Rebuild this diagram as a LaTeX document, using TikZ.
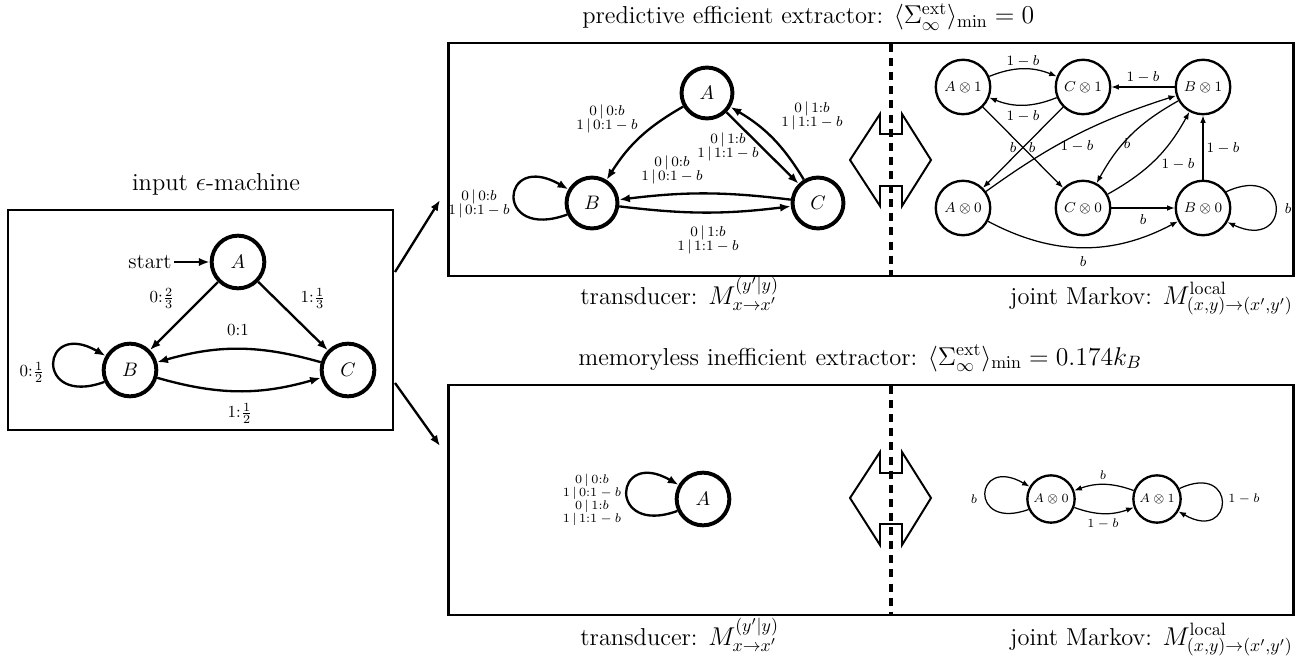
\documentclass[tikz,border=0pt]{standalone}
\usetikzlibrary{arrows.meta}
\newcommand{\tl}[3]{$#1\,|\,#2{:}#3$}
\begin{document}
\begin{tikzpicture}[x=0.56pt,y=-0.56pt,
  frame/.style={draw, line width=1.6pt},
  bigstate/.style={circle, draw, line width=2.2pt, minimum size=29.5pt, inner sep=0pt, font=\fontsize{11}{13}\selectfont},
  jstate/.style={circle, draw, line width=1.3pt, minimum size=30.5pt, inner sep=0pt, font=\fontsize{8}{9.6}\selectfont},
  sjstate/.style={circle, draw, line width=1.3pt, minimum size=26.5pt, inner sep=0pt, font=\fontsize{7}{8.4}\selectfont},
  e/.style={-{Latex[length=6pt,width=4.6pt]}, line width=1.3pt},
  je/.style={-{Latex[length=4.2pt,width=3.2pt]}, line width=0.7pt},
  tlab/.style={font={\fontsize{7.6}{7.7}\selectfont\lineskiplimit=-20pt\relax}, align=center, inner sep=0pt},
  slab/.style={font={\fontsize{7.3}{7.4}\selectfont\lineskiplimit=-20pt\relax}, align=center, inner sep=0pt},
  mlab/.style={font=\fontsize{9.5}{11}\selectfont, inner sep=0pt},
  jlab/.style={font=\fontsize{8}{9.6}\selectfont, inner sep=0pt},
  sjlab/.style={font=\fontsize{7}{8.4}\selectfont, inner sep=0pt},
  caption/.style={font=\fontsize{13.7}{16}\selectfont, inner sep=0pt, anchor=base west},
  divider/.style={line width=1.9pt, dash pattern=on 4.5pt off 3.4pt},
  symb/.style={draw, line width=1.1pt, line join=miter}
]
\useasboundingbox (0,0) rectangle (1302,663);

% ---------------- frames
\node[frame, minimum width=215.6pt, minimum height=123.2pt, inner sep=0pt] (lbox) at (200.5,320) {};
\node[frame, minimum width=473.2pt, minimum height=130.5pt, inner sep=0pt] (tbox) at (871,159.5) {};
\node[frame, minimum width=473.2pt, minimum height=128.8pt, inner sep=0pt] (bbox) at (871,500) {};

% ---------------- titles / captions
\node[caption, anchor=base] (ltitle) at (216,190) {input $\epsilon$-machine};
\node[caption] (ttitle) at (582,24) {predictive efficient extractor: $\langle\Sigma_\infty^{\mathrm{ext}}\rangle_{\min}=0$};
\node[caption] (tcap1) at (580,304) {transducer: $M_{x\to x'}^{(y'|y)}$};
\node[caption, anchor=base east] (tcap2) at (1293,304) {joint Markov: $M_{(x,y)\to(x',y')}^{\mathrm{local}}$};
\node[caption] (btitle) at (578,365) {memoryless inefficient extractor: $\langle\Sigma_\infty^{\mathrm{ext}}\rangle_{\min}=0.174k_B$};
\node[caption] (bcap1) at (580,645) {transducer: $M_{x\to x'}^{(y'|y)}$};
\node[caption, anchor=base east] (bcap2) at (1293,645) {joint Markov: $M_{(x,y)\to(x',y')}^{\mathrm{local}}$};

% ---------------- arrows between boxes
\coordinate (lo1) at (395,272);
\coordinate (to1) at (440,200);
\coordinate (lo2) at (395,383);
\coordinate (to2) at (440,446);
\draw[e] (lo1) -- (to1);
\draw[e] (lo2) -- (to2);

% ---------------- input epsilon-machine
\node[bigstate] (A) at (238,262) {$A$};
\node[bigstate] (B) at (130,370) {$B$};
\node[bigstate] (C) at (348,370) {$C$};
\node[font=\fontsize{12}{14}\selectfont, inner sep=1pt] (start) at (150,262) {start};
\draw[e] (start) -- (A);
\draw[e] (A) -- (B);
\draw[e] (A) -- (C);
\draw[e] (C) to[bend right=16] (B);
\draw[e] (B) to[bend right=16] (C);
\draw[e] (B.205) to[out=200,in=150,distance=42pt] (B.150);
\node[mlab] (l1) at (162,298) {0:$\frac{2}{3}$};
\node[mlab] (l2) at (313,298) {1:$\frac{1}{3}$};
\node[mlab] (l3) at (238,330) {0:1};
\node[mlab] (l4) at (240,413) {1:$\frac{1}{2}$};
\node[mlab] (l5) at (32,372) {0:$\frac{1}{2}$};

% ---------------- top transducer
\node[bigstate, minimum size=28.5pt] (TA) at (707,93) {$A$};
\node[bigstate, minimum size=28.5pt] (TB) at (592,203) {$B$};
\node[bigstate, minimum size=28.5pt] (TC) at (818,203) {$C$};
\draw[e] (TA) to[bend right=14] (TB);
\draw[e] (TA) -- (TC);
\draw[e] (TC) to[bend right=14] (TA);
\draw[e] (TC) to[bend right=7] (TB);
\draw[e] (TB) to[bend right=7] (TC);
\draw[e] (TB.205) to[out=200,in=150,distance=44pt] (TB.150);
\node[tlab] (t1) at (607,119) {\tl{0}{0}{b}\\\tl{1}{0}{1-b}};
\node[tlab] (t2) at (728,147) {\tl{0}{1}{b}\\\tl{1}{1}{1-b}};
\node[tlab] (t3) at (812,116) {\tl{0}{1}{b}\\\tl{1}{1}{1-b}};
\node[tlab] (t4) at (672,170) {\tl{0}{0}{b}\\\tl{1}{0}{1-b}};
\node[tlab] (t5) at (479,204) {\tl{0}{0}{b}\\\tl{1}{0}{1-b}};
\node[tlab] (t6) at (708,240) {\tl{0}{1}{b}\\\tl{1}{1}{1-b}};

% ---------------- divider and symbols
\coordinate (d1) at (891,44);
\coordinate (d2) at (891,275);
\coordinate (d3) at (891,386);
\coordinate (d4) at (891,614);
\draw[symb] (850,160) -- (880,114) -- (880,134) -- (902,134) -- (902,114) -- (931,160)
  -- (902,206) -- (902,186) -- (880,186) -- (880,206) -- cycle;
\draw[symb] (850,498) -- (880,452) -- (880,473) -- (902,473) -- (902,452) -- (931,498)
  -- (902,545) -- (902,524) -- (880,524) -- (880,545) -- cycle;
\draw[divider] (d1) -- (d2);
\draw[divider] (d3) -- (d4);

% ---------------- top joint Markov
\node[jstate] (A1) at (963,87) {$A\otimes 1$};
\node[jstate] (C1) at (1083,87) {$C\otimes 1$};
\node[jstate] (B1) at (1203,87) {$B\otimes 1$};
\node[jstate] (A0) at (963,208) {$A\otimes 0$};
\node[jstate] (C0) at (1083,208) {$C\otimes 0$};
\node[jstate] (B0) at (1203,208) {$B\otimes 0$};
\draw[je] (A1) to[bend left=22] (C1);
\draw[je] (C1) to[bend left=22] (A1);
\draw[je] (B1) -- (C1);
\draw[je] (A1) -- (C0);
\draw[je] (C1) -- (A0);
\draw[je] (A0) to[bend left=9] (B1);
\draw[je] (B1) to[bend right=16] (C0);
\draw[je] (C0) to[bend right=16] (B1);
\draw[je] (B0) -- (B1);
\draw[je] (C0) -- (B0);
\draw[je] (A0) to[bend right=28] (B0);
\draw[je] (B0.35) to[out=25,in=-25,distance=40pt] (B0.-30);
\node[jlab] (j1) at (1023,61) {$1-b$};
\node[jlab] (j2) at (1023,116) {$1-b$};
\node[jlab] (j3) at (1143,77) {$1-b$};
\node[jlab] (j4) at (1032,148) {$b$};
\node[jlab] (j5) at (1013,148) {$b$};
\node[jlab] (j6) at (1077,146) {$1-b$};
\node[jlab] (j7) at (1127,144) {$b$};
\node[jlab] (j8) at (1178,164) {$1-b$};
\node[jlab] (j9) at (1223,148) {$1-b$};
\node[jlab] (j10) at (1143,220) {$b$};
\node[jlab] (j11) at (1083,262) {$b$};
\node[jlab] (j12) at (1288,209) {$b$};

% ---------------- bottom transducer
\node[bigstate] (SA) at (703,499) {$A$};
\draw[e] (SA.205) to[out=200,in=150,distance=42pt] (SA.150);
\node[slab] (s1) at (592,500) {\tl{0}{0}{b}\\\tl{1}{0}{1-b}\\\tl{0}{1}{b}\\\tl{1}{1}{1-b}};

% ---------------- bottom joint Markov
\node[sjstate] (SA0) at (1051,499) {$A\otimes 0$};
\node[sjstate] (SA1) at (1157,499) {$A\otimes 1$};
\draw[je] (SA1) to[bend right=20] (SA0);
\draw[je] (SA0) to[bend right=20] (SA1);
\draw[je] (SA0.205) to[out=200,in=150,distance=36pt] (SA0.150);
\draw[je] (SA1.25) to[out=25,in=-30,distance=36pt] (SA1.-30);
\node[sjlab] (k1) at (974,499) {$b$};
\node[sjlab] (k2) at (1103,475) {$b$};
\node[sjlab] (k3) at (1103,524) {$1-b$};
\node[sjlab] (k4) at (1244,499) {$1-b$};
\end{tikzpicture}
\end{document}
